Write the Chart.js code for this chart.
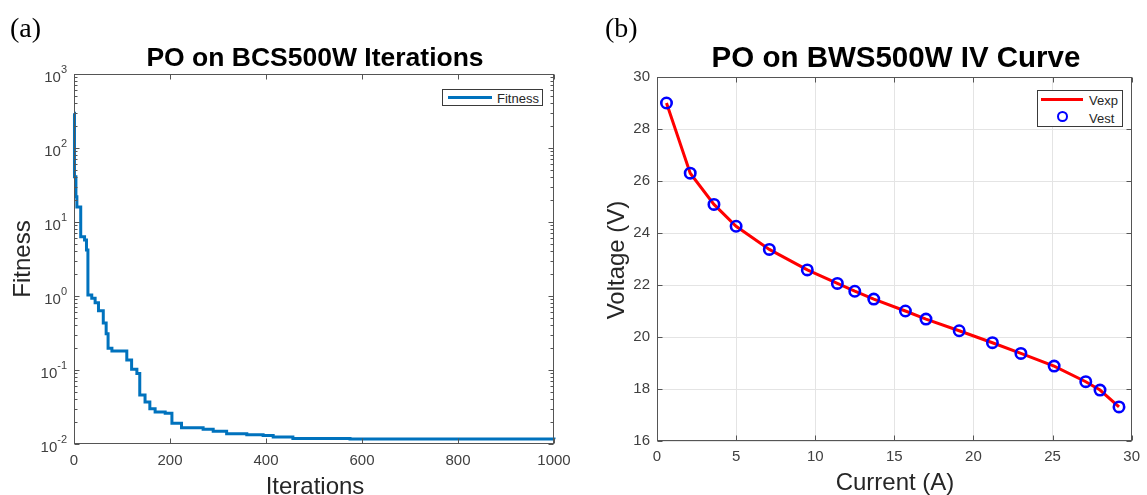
<!DOCTYPE html>
<html><head><meta charset="utf-8">
<script src="https://cdn.jsdelivr.net/npm/chart.js@4.4.1/dist/chart.umd.min.js"></script>
<style>
html,body{margin:0;padding:0;background:#fff;}
#wrap{position:relative;width:1147px;height:495px;overflow:hidden;font-family:"Liberation Sans",Arial,sans-serif;background:#fff;}
canvas{position:absolute;top:0;}
.t{position:absolute;transform:translate(-50%,-50%);white-space:nowrap;line-height:1;}
.title{font-weight:bold;color:#000;}
.axt{color:#262626;font-size:24px;}
.panel{position:absolute;font-family:"Liberation Serif","Times New Roman",serif;font-size:28px;line-height:1;color:#000;}
.leg{position:absolute;border:1px solid #3a3a3a;background:#fff;box-sizing:border-box;}
.leg span{position:absolute;}
.legtxt{font-size:13px;color:#262626;line-height:1;transform:translateY(-50%);}
</style></head>
<body>
<div id="wrap">
  <canvas id="c1" width="580" height="495" style="left:0;width:580px;height:495px"></canvas>
  <canvas id="c2" width="567" height="495" style="left:580px;width:567px;height:495px"></canvas>

  <div class="panel" style="left:10px;top:14px;">(a)</div>
  <div class="panel" style="left:605px;top:14px;">(b)</div>

  <div class="t title" style="left:315px;top:57px;font-size:26.5px;">PO on BCS500W Iterations</div>
  <div class="t title" style="left:896px;top:57px;font-size:29.5px;">PO on BWS500W IV Curve</div>

  <div class="t axt" style="left:22px;top:259px;transform:translate(-50%,-50%) rotate(-90deg);">Fitness</div>
  <div class="t axt" style="left:315px;top:486px;">Iterations</div>
  <div class="t axt" style="left:616px;top:260px;transform:translate(-50%,-50%) rotate(-90deg);">Voltage (V)</div>
  <div class="t axt" style="left:895px;top:482px;">Current (A)</div>

  <div class="leg" style="left:442px;top:89px;width:101px;height:17px;">
    <span style="left:5px;top:6px;width:44px;height:3px;background:#0072BD;"></span>
    <span class="legtxt" style="left:54px;top:8px;">Fitness</span>
  </div>
  <div class="leg" style="left:1037px;top:90px;width:86px;height:37px;">
    <span style="left:3px;top:7px;width:42px;height:3px;background:#ff0000;"></span>
    <span class="legtxt" style="left:51px;top:9px;">Vexp</span>
    <span style="left:19px;top:20px;width:7px;height:7px;border:2.5px solid #0000ff;border-radius:50%;"></span>
    <span class="legtxt" style="left:51px;top:27px;">Vest</span>
  </div>
</div>
<script>
// ---------- data (a) ----------
const iterations = [0, 1, 4, 6, 14, 22, 26, 29, 37, 44, 51, 61, 67, 71, 79, 110, 120, 131, 137, 148, 158, 169, 190, 204, 224, 269, 290, 318, 360, 394, 415, 456, 575, 1000];
const fitness = [295, 41, 22, 16, 6.3, 5.7, 4.2, 1.03, 0.93, 0.81, 0.63, 0.43, 0.31, 0.196, 0.18, 0.136, 0.102, 0.090, 0.046, 0.037, 0.030, 0.027, 0.026, 0.019, 0.0166, 0.0158, 0.0149, 0.0138, 0.0133, 0.0130, 0.0124, 0.0119, 0.0117, 0.0116];
const iterTicks = [0, 200, 400, 600, 800, 1000];
const fitnessDecades = [-2, -1, 0, 1, 2, 3];
const fitnessTickLabels = ['-2', '-1', '0', '1', '2', '3'];

// ---------- data (b) ----------
const current = [0.6, 2.1, 3.6, 5.0, 7.1, 9.5, 11.4, 12.5, 13.7, 15.7, 17.0, 19.1, 21.2, 23.0, 25.1, 27.1, 28.0, 29.2];
const vExp = [29.0, 26.3, 25.1, 24.26, 23.37, 22.58, 22.06, 21.76, 21.46, 21.0, 20.69, 20.24, 19.78, 19.37, 18.88, 18.28, 17.96, 17.31];
const vEst = [29.0, 26.3, 25.1, 24.26, 23.37, 22.58, 22.06, 21.76, 21.46, 21.0, 20.69, 20.24, 19.78, 19.37, 18.88, 18.28, 17.96, 17.31];
const currentTicks = [0, 5, 10, 15, 20, 25, 30];
const voltageTicks = [16, 18, 20, 22, 24, 26, 28, 30];

const FONT = '"Liberation Sans", Arial, sans-serif';
const AXC = '#555555';
const TICKC = '#404040';

const framePlugin = {
  id: 'frame',
  afterDraw(chart, args, opts) {
    const ctx = chart.ctx, a = chart.chartArea, xs = chart.scales.x, ys = chart.scales.y;
    const L = Math.round(a.left) + 0.5, R = Math.round(a.right) - 0.5, T = Math.round(a.top) + 0.5, B = Math.round(a.bottom) - 0.5;
    ctx.save();
    ctx.strokeStyle = AXC; ctx.lineWidth = 1;
    ctx.strokeRect(L, T, R - L, B - T);
    const major = 5, minor = 3;
    ctx.beginPath();
    xs.ticks.forEach(t => {
      const px = Math.round(xs.getPixelForValue(t.value)) + 0.5;
      ctx.moveTo(px, B); ctx.lineTo(px, B - major);
      ctx.moveTo(px, T); ctx.lineTo(px, T + major);
    });
    ys.ticks.forEach(t => {
      const py = Math.round(ys.getPixelForValue(t.value)) + 0.5;
      ctx.moveTo(L, py); ctx.lineTo(L + major, py);
      ctx.moveTo(R, py); ctx.lineTo(R - major, py);
    });
    if (opts.logMinor) {
      for (let e = fitnessDecades[0]; e < fitnessDecades[fitnessDecades.length - 1]; e++) {
        for (let m = 2; m <= 9; m++) {
          const py = Math.round(ys.getPixelForValue(m * Math.pow(10, e))) + 0.5;
          ctx.moveTo(L, py); ctx.lineTo(L + minor, py);
          ctx.moveTo(R, py); ctx.lineTo(R - minor, py);
        }
      }
    }
    ctx.stroke();
    if (opts.supLabels) {
      ctx.fillStyle = TICKC;
      ctx.textBaseline = 'middle';
      ys.ticks.forEach((t, i) => {
        const py = ys.getPixelForValue(t.value);
        const right = a.left - 7;
        ctx.font = '11px ' + FONT;
        ctx.textAlign = 'right';
        const ex = fitnessTickLabels[i];
        const ew = ctx.measureText(ex).width;
        ctx.fillText(ex, right, py - 4);
        ctx.font = '15px ' + FONT;
        ctx.fillText('10', right - ew, py + 4);
      });
    }
    ctx.restore();
  }
};

new Chart(document.getElementById('c1'), {
  type: 'line',
  data: {
    datasets: [{
      label: 'Fitness',
      data: iterations.map((x, i) => ({ x: x, y: fitness[i] })),
      borderColor: '#0072BD', borderWidth: 3, pointRadius: 0, stepped: true, fill: false, clip: false
    }]
  },
  options: {
    responsive: false, animation: false, devicePixelRatio: 1,
    layout: { padding: { left: 0, top: 74, right: 26, bottom: 0 } },
    plugins: { legend: { display: false }, tooltip: { enabled: false }, frame: { logMinor: true, supLabels: true } },
    scales: {
      x: {
        type: 'linear', min: 0, max: 1000,
        afterBuildTicks: s => { s.ticks = iterTicks.map(v => ({ value: v })); },
        grid: { display: false, drawTicks: false }, border: { display: false },
        ticks: { padding: 8, color: TICKC, font: { family: FONT, size: 15 }, maxRotation: 0, autoSkip: false, callback: v => String(v) },
        afterFit: s => { s.height = 51; }
      },
      y: {
        type: 'logarithmic', min: 0.01, max: 1000,
        afterBuildTicks: s => { s.ticks = fitnessDecades.map(e => ({ value: Math.pow(10, e) })); },
        grid: { display: false, drawTicks: false }, border: { display: false },
        ticks: { display: false },
        afterFit: s => { s.width = 74; }
      }
    }
  },
  plugins: [framePlugin]
});

new Chart(document.getElementById('c2'), {
  type: 'line',
  data: {
    datasets: [
      {
        label: 'Vest', order: 0, showLine: false,
        data: current.map((x, i) => ({ x: x, y: vEst[i] })),
        pointStyle: 'circle', pointRadius: 5.2, pointBorderWidth: 2.6,
        pointBorderColor: '#0000ff', pointBackgroundColor: 'rgba(0,0,0,0)',
        borderColor: '#0000ff', backgroundColor: 'rgba(0,0,0,0)', clip: false
      },
      {
        label: 'Vexp', order: 1,
        data: current.map((x, i) => ({ x: x, y: vExp[i] })),
        borderColor: '#ff0000', borderWidth: 3, pointRadius: 0, fill: false, tension: 0
      }
    ]
  },
  options: {
    responsive: false, animation: false, devicePixelRatio: 1,
    layout: { padding: { left: 0, top: 77, right: 12, bottom: 0 } },
    plugins: { legend: { display: false }, tooltip: { enabled: false }, frame: { logMinor: false, supLabels: false } },
    scales: {
      x: {
        type: 'linear', min: 0, max: 30,
        afterBuildTicks: s => { s.ticks = currentTicks.map(v => ({ value: v })); },
        grid: { display: true, drawTicks: false, color: '#e4e4e4', lineWidth: 1 }, border: { display: false },
        ticks: { padding: 7, color: TICKC, font: { family: FONT, size: 15 }, maxRotation: 0, autoSkip: false, callback: v => String(v) },
        afterFit: s => { s.height = 54; }
      },
      y: {
        type: 'linear', min: 16, max: 30,
        afterBuildTicks: s => { s.ticks = voltageTicks.map(v => ({ value: v })); },
        grid: { display: true, drawTicks: false, color: '#e4e4e4', lineWidth: 1 }, border: { display: false },
        ticks: { padding: 7, color: TICKC, font: { family: FONT, size: 15 }, autoSkip: false, callback: v => String(v) },
        afterFit: s => { s.width = 77; }
      }
    }
  },
  plugins: [framePlugin]
});
</script>
</body></html>
